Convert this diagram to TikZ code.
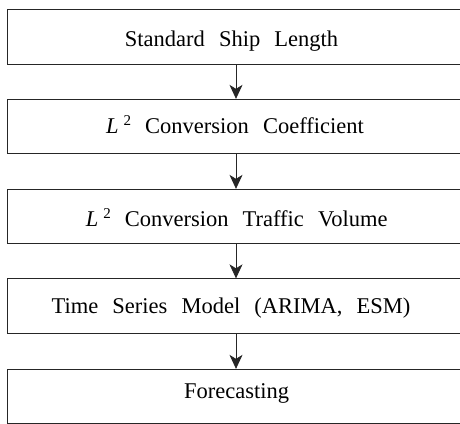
\documentclass[tikz,border=0pt]{standalone}
\usepackage{fontspec}
\setmainfont[WordSpace=2.5]{Liberation Serif}
\usetikzlibrary{arrows.meta}
\newcommand{\Lsq}{\textit{L}\hspace{5pt}\raisebox{8pt}{\fontsize{15}{15}\selectfont 2}}
\begin{document}
\begin{tikzpicture}[x=1pt,y=-1pt,
  box/.style={draw=black!85, line width=0.8pt, minimum width=457pt, minimum height=54.5pt, inner sep=0pt},
  lbl/.style={inner sep=0pt, anchor=base, font=\fontsize{22.5}{27}\selectfont},
  arr/.style={draw=black!85, line width=0.8pt, -{Stealth[length=14pt, width=13pt, inset=4pt]}}]
\clip (0,0) rectangle (460,423);
\fill[white] (0,0) rectangle (460,423);
\node[box] (b1) at (236,36.75) {};
\node[box] (b2) at (236,126.5) {};
\node[box] (b3) at (236,216.5) {};
\node[box] (b4) at (236,306) {};
\node[box] (b5) at (236,396.5) {};
\node[lbl] (t1) at (231.5,46) {Standard Ship Length};
\node[lbl] (t2) at (235,133.3) {\Lsq{} Conversion Coefficient};
\node[lbl] (t3) at (236.7,226) {\Lsq{} Conversion Traffic Volume};
\node[lbl] (t4) at (231,313.3) {Time Series Model (ARIMA, ESM)};
\node[lbl] (t5) at (236.7,398.3) {Forecasting};
\draw[arr] (b1.south) -- (b2.north);
\draw[arr] (b2.south) -- (b3.north);
\draw[arr] (b3.south) -- (b4.north);
\draw[arr] (b4.south) -- (b5.north);
\end{tikzpicture}
\end{document}
